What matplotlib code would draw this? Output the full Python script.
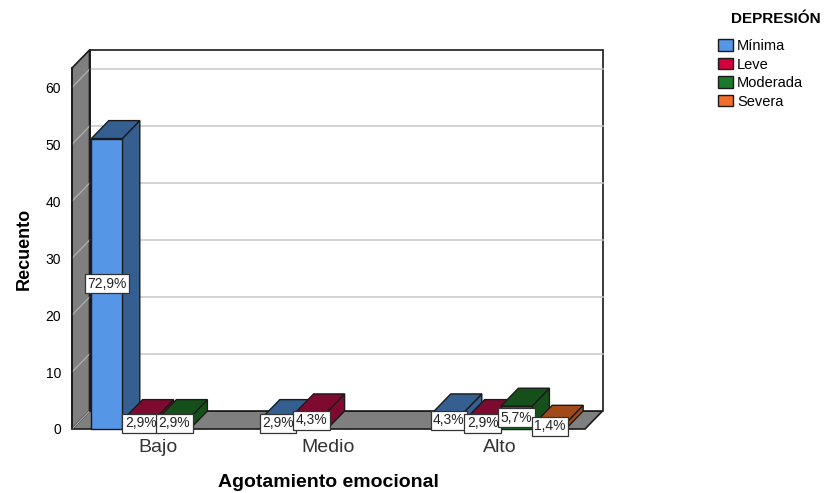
import matplotlib.pyplot as plt
from matplotlib.patches import Polygon, Patch

plt.rcParams['font.family'] = ['Liberation Sans', 'DejaVu Sans']

# counts (n=70), None = no bar
categories = ['Bajo', 'Medio', 'Alto']
series = ['Mínima', 'Leve', 'Moderada', 'Severa']
minima = [51, 2, 3]
leve = [2, 3, 2]
moderada = [2, None, 4]
severa = [None, None, 1]
pct_minima = ['72,9%', '2,9%', '4,3%']
pct_leve = ['2,9%', '4,3%', '2,9%']
pct_moderada = ['2,9%', None, '5,7%']
pct_severa = [None, None, '1,4%']
yticks = [0, 10, 20, 30, 40, 50, 60]

front = ['#5596E6', '#D2003C', '#1A7A2A', '#F26C2A']
shade = ['#355F91', '#7F0A30', '#15501A', '#A04A1A']
edge = '#1A1A1A'

W, H = 825, 493
fig = plt.figure(figsize=(W / 100, H / 100), dpi=100)
# front plane of the 3D box, in pixels
left, right, bottom, top = 72, 585, 429, 68
ax = fig.add_axes([left / W, 1 - bottom / H, (right - left) / W, (bottom - top) / H])
ax.set_xlim(-0.5, 2.5)
ax.set_ylim(0, 63.4)
for s in ax.spines.values():
    s.set_visible(False)
ax.patch.set_visible(False)

px_x = 3.0 / (right - left)
px_y = 63.4 / (bottom - top)
dx, dy = 17.5 * px_x, 18 * px_y
bar_w = 31 * px_x
slot = 33.8 * px_x
x0, x1 = -0.5, 2.5
ymax = 63.4


def poly(pts, fc, z=2, lw=1.0):
    ax.add_patch(Polygon(pts, closed=True, fc=fc, ec=edge, lw=lw, zorder=z, clip_on=False))


# walls and floor
poly([(x0, 0), (x0 + dx, dy), (x0 + dx, ymax + dy), (x0, ymax)], '#7F7F7F', lw=1.2)
poly([(x0, 0), (x1, 0), (x1 + dx, dy), (x0 + dx, dy)], '#7F7F7F', lw=1.2)
poly([(x0 + dx, dy), (x1 + dx, dy), (x1 + dx, ymax + dy), (x0 + dx, ymax + dy)], 'white', lw=1.2)
for v in yticks[1:]:
    ax.plot([x0 + dx, x1 + dx], [v + dy, v + dy], color='#C8C8C8', lw=1.1, zorder=2.5, clip_on=False)
for v in yticks:
    ax.plot([x0, x0 + dx], [v, v + dy], color='#B0B0B0', lw=0.9, zorder=2.5, clip_on=False)
ax.plot([x0 + dx, x0 + dx], [dy, ymax + dy], color=edge, lw=1.2, zorder=2.6, clip_on=False)
ax.plot([x0, x0], [0, ymax], color=edge, lw=1.2, zorder=2.6, clip_on=False)

values = [minima, leve, moderada, severa]
labels = [pct_minima, pct_leve, pct_moderada, pct_severa]
z = 3
for c in range(len(categories)):
    for i in range(len(series)):
        v = values[i][c]
        if v is None:
            continue
        xl = c - 2 * slot + i * slot + (slot - bar_w) / 2
        xr = xl + bar_w
        poly([(xr, 0), (xr + dx, dy), (xr + dx, v + dy), (xr, v)], shade[i], z)
        poly([(xl, v), (xr, v), (xr + dx, v + dy), (xl + dx, v + dy)], shade[i], z)
        ax.bar(xl, v, width=bar_w, align='edge', color=front[i], edgecolor=edge, lw=1.0, zorder=z, clip_on=False)
        z += 0.01

for c in range(len(categories)):
    for i in range(len(series)):
        if labels[i][c] is None:
            continue
        xc = c - 2 * slot + i * slot + slot / 2
        ax.text(xc, values[i][c] / 2, labels[i][c], ha='center', va='center', fontsize=10,
                color='#222222', zorder=10, clip_on=False,
                bbox=dict(boxstyle='square,pad=0.17', fc='white', ec='#333333', lw=0.9))

ax.set_xticks(range(len(categories)))
ax.set_xticklabels(categories, fontsize=14, color='#333333')
ax.set_yticks(yticks)
ax.tick_params(axis='y', length=0, pad=8, labelsize=10)
ax.tick_params(axis='x', length=0, pad=7)
ax.set_xlabel('Agotamiento emocional', fontsize=14, fontweight='bold')
ax.xaxis.set_label_coords(0.5, -0.125)
ax.set_ylabel('Recuento', fontsize=13, fontweight='bold')
ax.yaxis.set_label_coords(-0.077, 0.5)

handles = [Patch(fc=front[i], ec=edge, lw=1.0, label=series[i]) for i in range(len(series))]
fig.legend(handles=handles, loc='upper left', bbox_to_anchor=(718 / W, 1 - 39 / H),
           frameon=False, fontsize=10.5, handlelength=1.05, handleheight=0.85, handletextpad=0.25,
           labelspacing=0.31, borderaxespad=0, borderpad=0)
fig.text(731 / W, 1 - 19 / H, 'DEPRESIÓN', fontsize=11, fontweight='bold', va='center', ha='left')
fig.savefig('out.png', dpi=100)
